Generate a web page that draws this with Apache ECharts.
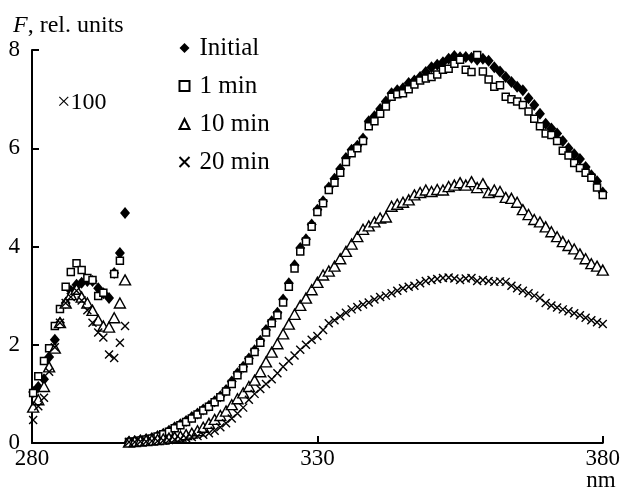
<!DOCTYPE html>
<html>
<head>
<meta charset="utf-8">
<script src="https://cdn.jsdelivr.net/npm/echarts@6/dist/echarts.min.js"></script>
<style>
  html, body { margin: 0; padding: 0; background: #fff; }
  #chart { width: 623px; height: 489px; }
</style>
</head>
<body>
<div id="chart"></div>
<script>
// wavelengths, nm
const wlLeft = [280.2, 281.1, 282.1, 283.0, 284.0, 284.9, 285.9, 286.8, 287.8, 288.7, 289.7, 290.6, 291.6, 292.5, 293.5, 294.4, 295.4, 296.3];
const wlRight = [297, 298, 299, 300, 301, 302, 303, 304, 305, 306, 307, 308, 309, 310, 311, 312, 313, 314, 315, 316,
  317, 318, 319, 320, 321, 322, 323, 324, 325, 326, 327, 328, 329, 330, 331, 332, 333, 334, 335, 336,
  337, 338, 339, 340, 341, 342, 343, 344, 345, 346, 347, 348, 349, 350, 351, 352, 353, 354, 355, 356,
  357, 358, 359, 360, 361, 362, 363, 364, 365, 366, 367, 368, 369, 370, 371, 372, 373, 374, 375, 376,
  377, 378, 379, 380];

// left part is shown x100
const initLeft = [1.04, 1.14, 1.30, 1.75, 2.10, 2.45, 2.85, 3.10, 3.22, 3.26, 3.30, 3.30, 3.15, 3.05, 2.95, 3.46, 3.87, 4.68];
const min1Left = [1.02, 1.36, 1.67, 1.93, 2.38, 2.73, 3.18, 3.48, 3.66, 3.52, 3.36, 3.32, 2.99, 3.06, null, 3.44, 3.71, null];
const min10Left = [0.73, 0.88, 1.15, 1.55, 1.93, 2.45, 2.85, 3.02, 3.13, 2.97, 2.85, 2.70, 2.50, 2.38, 2.36, 2.55, 2.85, 3.32];
const min20Left = [0.47, 0.75, 0.92, 1.45, 1.95, 2.45, 2.85, 2.97, 3.10, 2.90, 2.70, 2.45, 2.25, 2.15, 1.80, 1.73, 2.04, 2.38];

const initRight = [0.03, 0.04, 0.06, 0.08, 0.10, 0.14, 0.19, 0.25, 0.32, 0.38, 0.45, 0.53, 0.60, 0.68, 0.76, 0.85, 0.95, 1.08, 1.25, 1.42,
  1.55, 1.72, 1.89, 2.08, 2.30, 2.48, 2.65, 2.92, 3.25, 3.62, 3.97, 4.15, 4.45, 4.75, 4.92, 5.20, 5.38, 5.58, 5.80, 5.97,
  6.05, 6.20, 6.55, 6.65, 6.80, 6.95, 7.12, 7.18, 7.22, 7.33, 7.38, 7.45, 7.55, 7.65, 7.70, 7.75, 7.82, 7.88, 7.85, 7.86,
  7.84, 7.80, 7.82, 7.78, 7.65, 7.56, 7.45, 7.35, 7.25, 7.18, 7.02, 6.88, 6.70, 6.50, 6.40, 6.30, 6.15, 6.00, 5.88, 5.78,
  5.62, 5.45, 5.33, 5.10];
const min1Right = [0.02, 0.03, 0.05, 0.07, 0.09, 0.13, 0.18, 0.23, 0.30, 0.36, 0.43, 0.50, 0.58, 0.66, 0.74, 0.83, 0.93, 1.05, 1.20, 1.38,
  1.52, 1.68, 1.85, 2.04, 2.25, 2.44, 2.60, 2.86, 3.18, 3.55, 3.90, 4.10, 4.40, 4.70, 4.88, 5.15, 5.30, 5.50, 5.72, 5.90,
  6.00, 6.15, 6.45, 6.55, 6.70, 6.85, 7.05, 7.10, 7.12, 7.20, 7.30, 7.38, 7.42, 7.45, 7.50, 7.60, 7.62, 7.72, 7.80, 7.60,
  7.55, 7.90, 7.56, 7.40, 7.25, 7.28, 7.05, 7.00, 6.95, 6.88, 6.75, 6.60, 6.45, 6.30, 6.27, 6.15, 5.95, 5.85, 5.70, 5.60,
  5.50, 5.40, 5.20, 5.05];
const min10Right = [0.02, 0.03, 0.04, 0.05, 0.06, 0.07, 0.08, 0.10, 0.12, 0.14, 0.17, 0.20, 0.25, 0.32, 0.40, 0.48, 0.56, 0.65, 0.78, 0.90,
  1.02, 1.15, 1.28, 1.45, 1.65, 1.85, 2.02, 2.22, 2.42, 2.62, 2.80, 2.95, 3.12, 3.27, 3.42, 3.50, 3.60, 3.75, 3.90, 4.05,
  4.20, 4.35, 4.42, 4.50, 4.58, 4.60, 4.82, 4.86, 4.90, 4.95, 5.05, 5.10, 5.15, 5.12, 5.16, 5.15, 5.22, 5.25, 5.30, 5.25,
  5.32, 5.20, 5.28, 5.10, 5.15, 5.12, 5.00, 4.98, 4.90, 4.75, 4.65, 4.55, 4.50, 4.40, 4.30, 4.20, 4.10, 4.02, 3.95, 3.85,
  3.75, 3.65, 3.60, 3.52];
const min20Right = [0.02, 0.02, 0.03, 0.03, 0.04, 0.04, 0.05, 0.06, 0.07, 0.08, 0.10, 0.12, 0.14, 0.17, 0.20, 0.25, 0.32, 0.40, 0.50, 0.60,
  0.72, 0.88, 1.00, 1.10, 1.20, 1.30, 1.42, 1.55, 1.67, 1.78, 1.90, 2.00, 2.10, 2.18, 2.30, 2.44, 2.50, 2.58, 2.65, 2.72,
  2.77, 2.82, 2.86, 2.92, 2.97, 3.00, 3.05, 3.10, 3.15, 3.18, 3.20, 3.25, 3.30, 3.32, 3.34, 3.36, 3.37, 3.35, 3.32, 3.35,
  3.36, 3.30, 3.32, 3.30, 3.28, 3.29, 3.28, 3.20, 3.15, 3.10, 3.05, 3.00, 2.95, 2.85, 2.80, 2.76, 2.72, 2.68, 2.64, 2.60,
  2.55, 2.50, 2.46, 2.42];

const seriesNames = ['Initial', '1 min', '10 min', '20 min'];
const xTicks = [280, 330, 380];

const serif = 'Liberation Serif, Times New Roman, serif';
const ink = '#000';

const pairs = (xs, ys) => {
  const out = [];
  xs.forEach((x, i) => {
    if (ys[i] != null) out.push([x, ys[i]]);
  });
  return out;
};

const chart = echarts.init(document.getElementById('chart'), null, { renderer: 'canvas' });

const makeSeries = (name, left, right, symbol, size, itemStyle) => ({
  name: name,
  type: 'scatter',
  data: pairs(wlLeft, left).concat(pairs(wlRight, right)),
  symbol: symbol,
  symbolSize: size,
  itemStyle: Object.assign({ opacity: 1 }, itemStyle),
  emphasis: { disabled: true }
});

const crossPath = 'path://M0,0L10,10M0,10L10,0';

const option = {
  animation: false,
  grid: { left: 32, right: 19, top: 50, bottom: 46 },
  legend: {
    orient: 'vertical',
    left: 177,
    top: 34,
    padding: 0,
    itemWidth: 10,
    itemHeight: 10,
    itemGap: 10,
    data: seriesNames,
    textStyle: {
      fontFamily: serif,
      fontSize: 25,
      color: ink,
      lineHeight: 28,
      padding: [0, 0, 0, 5]
    }
  },
  xAxis: {
    type: 'value',
    min: 280,
    max: 380,
    interval: 50,
    axisLine: { lineStyle: { color: ink, width: 2 } },
    axisTick: { inside: true, length: 7, lineStyle: { color: ink, width: 2 } },
    splitLine: { show: false },
    axisLabel: {
      color: ink,
      fontFamily: serif,
      fontSize: 23,
      margin: 4,
      formatter: (v) => (xTicks.indexOf(v) >= 0 ? String(v) : '')
    }
  },
  yAxis: {
    type: 'value',
    min: 0,
    max: 8,
    interval: 2,
    axisLine: { show: true, lineStyle: { color: ink, width: 2 } },
    axisTick: { show: true, inside: true, length: 7, lineStyle: { color: ink, width: 2 } },
    splitLine: { show: false },
    axisLabel: { color: ink, fontFamily: serif, fontSize: 23, margin: 12 }
  },
  graphic: [
    {
      type: 'text',
      left: 13,
      top: 14,
      style: {
        text: '{i|F}, rel. units',
        rich: {
          i: { fontStyle: 'italic', fontFamily: serif, fontSize: 24, fill: ink }
        },
        fontFamily: serif,
        fontSize: 24,
        fill: ink
      }
    },
    {
      type: 'text',
      left: 57,
      top: 91,
      style: { text: '×100', fontFamily: serif, fontSize: 24, fill: ink }
    },
    {
      type: 'text',
      x: 601,
      y: 481,
      style: { text: 'nm', fontFamily: serif, fontSize: 23, fill: ink, align: 'center', verticalAlign: 'middle' }
    }
  ],
  series: [
    makeSeries(seriesNames[0], initLeft, initRight, 'diamond', [10, 12], { color: ink }),
    makeSeries(seriesNames[1], min1Left, min1Right, 'rect', 7, { color: '#fff', borderColor: ink, borderWidth: 1.5 }),
    makeSeries(seriesNames[2], min10Left, min10Right, 'triangle', [11, 10], { color: '#fff', borderColor: ink, borderWidth: 1.4 }),
    makeSeries(seriesNames[3], min20Left, min20Right, crossPath, 8, { color: 'none', borderColor: ink, borderWidth: 1.4 })
  ]
};

chart.setOption(option);
</script>
</body>
</html>
